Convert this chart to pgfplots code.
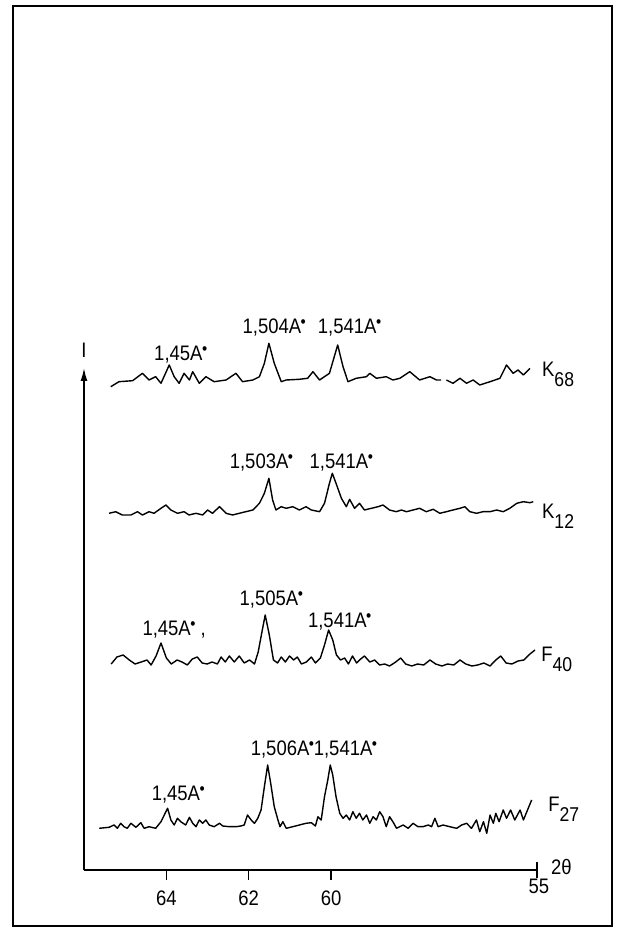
\documentclass[border=0pt]{standalone}
\usepackage{pgfplots}
\pgfplotsset{compat=1.18}
\usetikzlibrary{arrows.meta,calc}
\usepackage{fontspec}
\setmainfont{Liberation Sans}[FakeStretch=0.88]
\newcommand\Ang{A\kern-0.02em\raisebox{0.55ex}{\scalebox{0.8}{\textbullet}}}
\newcommand\lab[2]{#1\raisebox{-0.45em}{\fontsize{20}{22}\selectfont #2}}
\tikzset{lbl/.style={font=\fontsize{21}{24}\selectfont, inner sep=0pt, text=black}}
\begin{document}
\begin{tikzpicture}
\begin{axis}[scale only axis,
  width=453pt, height=502pt,
  xmin=55, xmax=66, x dir=reverse, ymin=0, ymax=502,
  axis x line=bottom, axis y line=left,
  x axis line style={-}, y axis line style={-{Latex[length=13pt,width=7pt]}},
  axis line style={line width=1.6pt},
  ytick=\empty, xtick={60,62,64},
  extra x ticks={55},
  extra x tick style={tick align=center, major tick length=16pt,
     xticklabel style={yshift=9pt, xshift=2pt}},
  tick align=outside, major tick length=10pt,
  tick style={line width=1.5pt, black},
  xticklabel style={font=\fontsize{21}{24}\selectfont, yshift=-7pt},
  /pgf/number format/assume math mode=true,
  clip=false, unbounded coords=jump]
\coordinate (O) at (axis cs:66,0);
\addplot[black, line width=1.4pt, line join=round] coordinates {
(65.35,483.3) (65.15,488.3) (64.82,489.3) (64.58,496.7) (64.42,490) (64.26,493.3) (64.13,486.7) (63.93,505) (63.81,493.3) (63.69,486.7) (63.57,496.7) (63.44,490) (63.36,498.3) (63.20,486.7) (63.04,493.3) (62.84,488.3) (62.55,490) (62.31,496.7) (62.15,488.3) (61.90,490) (61.74,493.3) (61.62,506.7) (61.51,526.7) (61.38,506.7) (61.21,488.3) (61.09,490) (60.77,490.7) (60.57,491.7) (60.44,498.3) (60.28,490) (60.04,496.7) (59.84,525) (59.71,503.3) (59.59,488.3) (59.39,491.7) (59.14,493.3) (59.06,496.7) (58.90,491.7) (58.66,493.3) (58.50,490) (58.33,491.7) (58.09,498.3) (57.85,490) (57.60,493.3) (57.44,490) (57.33,490) (57.28,nan) (57.20,490) (57.04,486.7) (56.87,491.7) (56.71,486.7) (56.55,490) (56.39,485) (56.14,488.3) (55.90,491.7) (55.74,505) (55.58,496.7) (55.46,500) (55.33,495) (55.17,501.7)
};
\addplot[black, line width=1.4pt, line join=round] coordinates {
(65.39,356.7) (65.23,358.3) (65.07,355) (64.86,355) (64.70,358.3) (64.58,355) (64.42,358.3) (64.30,356.7) (64.13,361.7) (64.01,365) (63.89,360) (63.73,356.7) (63.57,358.3) (63.45,355) (63.28,356.7) (63.12,355) (63.00,360) (62.88,356.7) (62.71,363.3) (62.55,356.7) (62.39,355) (62.23,356.7) (62.07,358.3) (61.90,360) (61.74,366.7) (61.62,376.7) (61.51,391.7) (61.42,370) (61.34,360) (61.21,363.3) (61.09,361.7) (60.93,363.3) (60.77,360) (60.61,363.3) (60.48,360) (60.28,358.3) (60.16,366.7) (60.04,386.7) (59.97,396.7) (59.88,386.7) (59.75,371.7) (59.63,363.3) (59.55,370.7) (59.43,361.7) (59.31,366.7) (59.19,360) (59.02,361.7) (58.86,363.3) (58.74,365) (58.58,360) (58.42,358.3) (58.29,360) (58.17,358.3) (58.01,360) (57.85,361.7) (57.69,358.3) (57.52,360.7) (57.36,356.7) (57.20,358.3) (57.04,360) (56.87,361.7) (56.75,363.3) (56.63,358.3) (56.47,356.7) (56.31,358.3) (56.14,358.3) (55.98,360) (55.82,358.3) (55.66,361.7) (55.49,366.7) (55.33,368.3) (55.17,367.3) (55.09,368.3)
};
\addplot[black, line width=1.4pt, line join=round] coordinates {
(65.34,206) (65.20,213) (65.05,215) (64.90,210) (64.76,206) (64.61,208) (64.47,210) (64.37,205) (64.25,214) (64.13,227) (64.00,212) (63.88,206) (63.74,210) (63.62,208) (63.49,205) (63.37,211) (63.25,213) (63.13,207) (63.01,206) (62.89,208) (62.76,206) (62.67,213) (62.57,208) (62.47,214) (62.35,208) (62.23,214) (62.11,207) (61.98,210) (61.86,206) (61.77,218) (61.67,240) (61.60,255) (61.50,235) (61.40,210) (61.30,207) (61.21,213) (61.11,208) (61.01,214) (60.91,210) (60.82,213) (60.72,206) (60.60,208) (60.48,213) (60.38,207) (60.26,212) (60.16,225) (60.06,240) (59.96,230) (59.87,215) (59.77,210) (59.67,212) (59.58,206) (59.48,214) (59.38,207) (59.28,211) (59.19,214) (59.06,208) (58.94,210) (58.82,205) (58.70,206) (58.58,204) (58.43,208) (58.31,212) (58.19,206) (58.04,204) (57.90,206) (57.75,205) (57.60,210) (57.46,206) (57.31,204) (57.17,206) (57.02,205) (56.87,210) (56.73,206) (56.58,204) (56.44,205) (56.29,207) (56.14,204) (56.00,210) (55.88,214) (55.75,207) (55.61,206) (55.46,209) (55.32,210) (55.17,216) (55.05,220)
};
\addplot[black, line width=1.4pt, line join=round] coordinates {
(65.63,41.7) (65.39,42.7) (65.27,45) (65.19,41.7) (65.11,46.7) (65.03,43.3) (64.95,41.7) (64.86,46.7) (64.74,42.7) (64.62,47.3) (64.54,41.7) (64.42,43.3) (64.26,41.7) (64.13,48.3) (64.03,56.7) (63.97,61.7) (63.89,50) (63.81,45) (63.73,51.7) (63.65,48.3) (63.53,45) (63.44,52.7) (63.36,46.7) (63.28,43.3) (63.20,50) (63.12,46.7) (63.04,50) (62.96,45) (62.84,43.3) (62.71,46.7) (62.63,44) (62.47,43.3) (62.31,43.3) (62.19,44) (62.11,45) (62.03,55) (61.94,50) (61.86,46.7) (61.78,51.7) (61.70,60) (61.62,83.3) (61.54,105) (61.46,85) (61.38,63.3) (61.29,50) (61.24,43.3) (61.17,48.3) (61.09,41.7) (60.93,43.3) (60.77,45) (60.61,46.7) (60.48,47.3) (60.38,44) (60.32,53.3) (60.24,50) (60.16,73.3) (60.08,90) (60.02,105) (59.96,95) (59.88,73.3) (59.79,56.7) (59.71,51.7) (59.63,55) (59.55,50) (59.47,58.3) (59.39,51.7) (59.31,56.7) (59.23,50) (59.14,55) (59.06,46.7) (58.98,53.3) (58.90,50) (58.82,58.3) (58.74,53.3) (58.66,43.3) (58.58,53.3) (58.50,48.3) (58.41,41.7) (58.25,45) (58.13,41.7) (58.01,46.7) (57.89,43.3) (57.77,43.3) (57.64,45) (57.56,43.3) (57.48,51.7) (57.40,43.3) (57.28,45) (57.12,43.3) (56.95,41.7) (56.83,45) (56.71,46.7) (56.59,41.7) (56.47,50) (56.39,38.3) (56.30,48.3) (56.22,36.7) (56.14,55) (56.06,46.7) (56.00,56.7) (55.92,48.3) (55.82,60) (55.74,51.7) (55.64,60) (55.54,50) (55.41,60) (55.33,50) (55.13,70)
};
% peak labels
\node[lbl] at (axis cs:63.65,515) {1,45\Ang};
\node[lbl] at (axis cs:61.38,542) {1,504\Ang};
\node[lbl] at (axis cs:59.55,542) {1,541\Ang};
\node[lbl] at (axis cs:61.69,407) {1,503\Ang};
\node[lbl] at (axis cs:59.75,407) {1,541\Ang};
\node[lbl] at (axis cs:63.81,240) {1,45\Ang\ ,};
\node[lbl] at (axis cs:61.45,270) {1,505\Ang};
\node[lbl] at (axis cs:59.79,248) {1,541\Ang};
\node[lbl] at (axis cs:63.71,75) {1,45\Ang};
\node[lbl] at (axis cs:61.18,120) {1,506\Ang};
\node[lbl] at (axis cs:59.65,120) {1,541\Ang};
% series labels
\node[lbl, anchor=base west] at (axis cs:54.88,493) {\lab{K}{68}};
\node[lbl, anchor=base west] at (axis cs:54.88,351) {\lab{K}{12}};
\node[lbl, anchor=base west] at (axis cs:54.90,208) {\lab{F}{40}};
\node[lbl, anchor=base west] at (axis cs:54.73,58) {\lab{F}{27}};
% axis labels
\node[lbl, anchor=south] at (axis cs:66,512) {I};
\node[lbl, anchor=west] at (axis cs:55,3) [xshift=14pt] {2θ};
\end{axis}
\path ($(O)+(-84pt,-64pt)$) rectangle ($(O)+(536pt,870pt)$);
\draw[line width=2pt] ($(O)+(-71pt,-56pt)$) rectangle ($(O)+(528pt,864pt)$);
\end{tikzpicture}
\end{document}
